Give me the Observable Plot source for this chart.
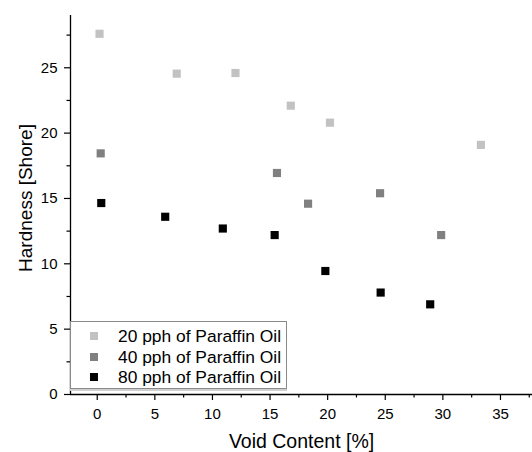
<!DOCTYPE html>
<html>
<head>
<meta charset="utf-8">
<script src="https://cdn.jsdelivr.net/npm/d3@7"></script>
<script src="https://cdn.jsdelivr.net/npm/@observablehq/plot@0.6"></script>
<style>
  html, body { margin: 0; padding: 0; background: #fff; }
  #wrap { position: relative; width: 532px; height: 452px; font-family: "Liberation Sans", Arial, sans-serif; }
  #legend { position: absolute; left: 70px; top: 321px; width: 217px; height: 68px; border: 1px solid #8a8a8a;
    box-shadow: 0 2px 0 #d0d0d0; background: #fff; box-sizing: border-box; padding: 4px 0 0 19px; }
  .row { height: 20.5px; line-height: 20.5px; font-size: 17.4px; color: #000; white-space: nowrap; }
  .sw { display: inline-block; width: 8px; height: 8px; margin-right: 20px; vertical-align: middle; position: relative; top: -1px; }
</style>
</head>
<body>
<div id="wrap"></div>
<script>
const seriesNames = ["20 pph of Paraffin Oil", "40 pph of Paraffin Oil", "80 pph of Paraffin Oil"];
const seriesColors = ["#c2c2c2", "#808080", "#000000"];

const void20 = [0.2, 6.9, 12.0, 16.8, 20.2, 33.3];
const hard20 = [27.6, 24.55, 24.6, 22.1, 20.8, 19.1];
const void40 = [0.3, 15.6, 18.3, 24.55, 29.85];
const hard40 = [18.45, 16.95, 14.6, 15.4, 12.2];
const void80 = [0.35, 5.9, 10.9, 15.4, 19.8, 24.6, 28.9];
const hard80 = [14.65, 13.6, 12.7, 12.2, 9.45, 7.8, 6.9];

const xTicks = [0, 5, 10, 15, 20, 25, 30, 35];
const xMinor = [2.5, 7.5, 12.5, 17.5, 22.5, 27.5, 32.5, 37.5];
const yTicks = [0, 5, 10, 15, 20, 25];
const yMinor = [2.5, 7.5, 12.5, 17.5, 22.5, 27.5];
const xTitle = "Void Content [%]";
const yTitle = "Hardness [Shore]";

const xDomain = [-2.32, 37.78];
const yDomain = [0, 29];

const pts = [];
[[void20, hard20], [void40, hard40], [void80, hard80]].forEach(([xs, ys], i) => {
  xs.forEach((x, j) => pts.push({x, y: ys[j], s: seriesNames[i]}));
});

const font = "Liberation Sans, Arial, sans-serif";
const chart = Plot.plot({
  width: 532,
  height: 452,
  marginLeft: 70,
  marginRight: 0,
  marginTop: 15,
  marginBottom: 58,
  style: {fontFamily: font, background: "#fff", overflow: "visible"},
  x: {domain: xDomain},
  y: {domain: yDomain},
  color: {domain: seriesNames, range: seriesColors},
  marks: [
    Plot.axisX({ticks: xTicks, tickSize: 6, tickPadding: 8, fontSize: 15, label: null, stroke: "#000", strokeWidth: 1.2}),
    Plot.axisX({ticks: xMinor, tickSize: 3.5, tickFormat: () => "", label: null, stroke: "#000", strokeWidth: 1.2}),
    Plot.axisY({ticks: yTicks, tickSize: 6, tickPadding: 7, fontSize: 15, label: null, stroke: "#000", strokeWidth: 1.2}),
    Plot.axisY({ticks: yMinor, tickSize: 3.5, tickFormat: () => "", label: null, stroke: "#000", strokeWidth: 1.2}),
    Plot.ruleY([yDomain[0]], {stroke: "#000", strokeWidth: 1.3}),
    Plot.ruleX([xDomain[0]], {stroke: "#000", strokeWidth: 1.3}),
    Plot.dot(pts, {x: "x", y: "y", fill: "s", symbol: "square", r: 4.6}),
    Plot.text([xTitle], {frameAnchor: "bottom", text: d => d, dy: 47, fontSize: 19.5, fill: "#000", lineAnchor: "middle"}),
    Plot.text([yTitle], {frameAnchor: "left", text: d => d, dx: -45, dy: -7, rotate: -90, fontSize: 19, fill: "#000", textAnchor: "middle", lineAnchor: "middle"})
  ]
});

const wrap = document.getElementById("wrap");
wrap.appendChild(chart);

const color = chart.scale("color");
const legend = document.createElement("div");
legend.id = "legend";
seriesNames.forEach(name => {
  const row = document.createElement("div");
  row.className = "row";
  const sw = document.createElement("span");
  sw.className = "sw";
  sw.style.background = color.apply(name);
  row.appendChild(sw);
  row.appendChild(document.createTextNode(name));
  legend.appendChild(row);
});
wrap.appendChild(legend);
</script>
</body>
</html>
